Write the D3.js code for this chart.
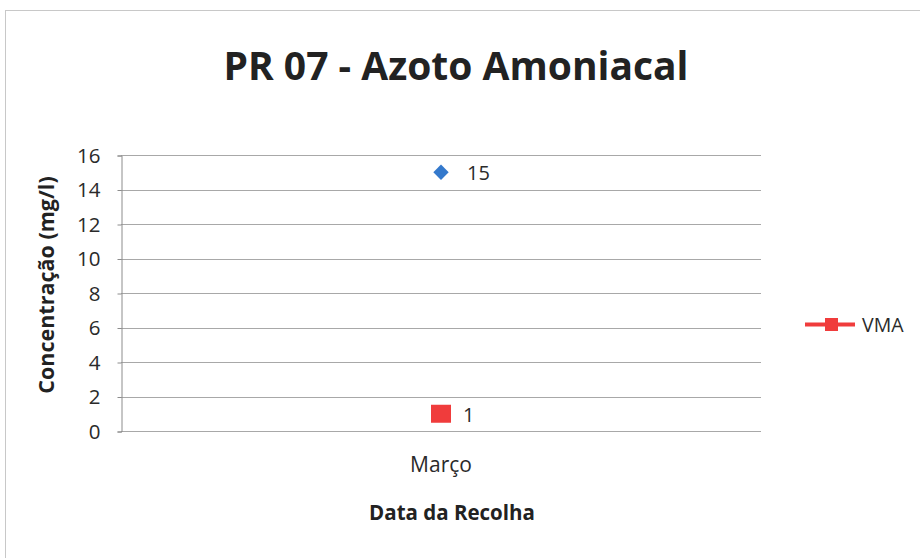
<!DOCTYPE html>
<html>
<head>
<meta charset="utf-8">
<script src="https://cdn.jsdelivr.net/npm/d3@7"></script>
<style>
  body { margin: 0; background: #fff; }
  text { font-family: "Open Sans", Lato, sans-serif; }
</style>
</head>
<body>
<svg id="chart" width="920" height="558"></svg>
<script>
var categories = ["Março"];
var valoresMedidos = [15];
var valoresVMA = [1];
var yTicks = [0, 2, 4, 6, 8, 10, 12, 14, 16];

var svg = d3.select("#chart");
var width = 920, height = 558;
var plot = { left: 121, right: 761, top: 155, bottom: 431 };

// chart border
svg.append("rect")
    .attr("x", 5.5).attr("y", 10.5)
    .attr("width", 930).attr("height", 560)
    .attr("fill", "#fff")
    .attr("stroke", "#c8c8c8")
    .attr("stroke-width", 1);

var x = d3.scalePoint().domain(categories).range([plot.left, plot.right]).padding(0.5);
var y = d3.scaleLinear().domain([0, 16]).range([plot.bottom, plot.top]);

// gridlines
svg.append("g").selectAll("line")
    .data(yTicks)
    .enter().append("line")
    .attr("x1", plot.left).attr("x2", plot.right)
    .attr("y1", function (d) { return Math.round(y(d)) + 0.5; })
    .attr("y2", function (d) { return Math.round(y(d)) + 0.5; })
    .attr("stroke", "#a8a8a8")
    .attr("stroke-width", 1);

// y axis
var yAxis = svg.append("g")
    .attr("transform", "translate(" + (plot.left + 0.5) + ",0.5)")
    .call(d3.axisLeft(y).tickValues(yTicks).tickSize(4).tickPadding(17));
yAxis.select(".domain").attr("stroke", "#8c8c8c");
yAxis.selectAll(".tick line").attr("stroke", "#8c8c8c");
yAxis.selectAll(".tick text")
    .attr("font-size", 20.5)
    .attr("fill", "#2a2a2a")
    .style("font-family", "'Open Sans', Lato, sans-serif");

// x category label
svg.append("g").selectAll("text")
    .data(categories)
    .enter().append("text")
    .attr("x", function (d) { return x(d); })
    .attr("y", 472)
    .attr("text-anchor", "middle")
    .attr("font-size", 21)
    .attr("fill", "#2a2a2a")
    .text(function (d) { return d; });

// measured series: blue diamonds
var sym = d3.symbol().type(d3.symbolDiamond2).size(150);
svg.append("g").selectAll("path")
    .data(valoresMedidos)
    .enter().append("path")
    .attr("d", sym)
    .attr("transform", function (d, i) { return "translate(" + x(categories[i]) + "," + y(d) + ")"; })
    .attr("fill", "#3479cc");

svg.append("g").selectAll("text")
    .data(valoresMedidos)
    .enter().append("text")
    .attr("x", function (d, i) { return x(categories[i]) + 26; })
    .attr("y", function (d) { return y(d) + 8; })
    .attr("font-size", 20)
    .attr("fill", "#2a2a2a")
    .text(function (d) { return d; });

// VMA series: red squares
svg.append("g").selectAll("rect")
    .data(valoresVMA)
    .enter().append("rect")
    .attr("x", function (d, i) { return x(categories[i]) - 10; })
    .attr("y", function (d) { return y(d) - 9; })
    .attr("width", 20).attr("height", 18)
    .attr("fill", "#f03c3c");

svg.append("g").selectAll("text")
    .data(valoresVMA)
    .enter().append("text")
    .attr("x", function (d, i) { return x(categories[i]) + 22; })
    .attr("y", function (d) { return y(d) + 8; })
    .attr("font-size", 20)
    .attr("fill", "#2a2a2a")
    .text(function (d) { return d; });

// title
svg.append("text")
    .attr("x", 456).attr("y", 80)
    .attr("text-anchor", "middle")
    .attr("font-size", 39)
    .attr("font-weight", "bold")
    .attr("fill", "#222")
    .text("PR 07 - Azoto Amoniacal");

// axis titles
svg.append("text")
    .attr("transform", "translate(54,285) rotate(-90)")
    .attr("text-anchor", "middle")
    .attr("font-size", 21.5)
    .attr("font-weight", "bold")
    .attr("fill", "#222")
    .text("Concentração (mg/l)");

svg.append("text")
    .attr("x", 452).attr("y", 520)
    .attr("text-anchor", "middle")
    .attr("font-size", 20.5)
    .attr("font-weight", "bold")
    .attr("fill", "#222")
    .text("Data da Recolha");

// legend
var legend = svg.append("g").attr("transform", "translate(805,324.5)");
legend.append("line")
    .attr("x1", 0).attr("x2", 50)
    .attr("y1", 0).attr("y2", 0)
    .attr("stroke", "#f03c3c").attr("stroke-width", 4);
legend.append("rect")
    .attr("x", 20).attr("y", -6.5)
    .attr("width", 13).attr("height", 13)
    .attr("fill", "#f03c3c");
legend.append("text")
    .attr("x", 57).attr("y", 7)
    .attr("font-size", 19.5)
    .attr("fill", "#2a2a2a")
    .text("VMA");
</script>
</body>
</html>
